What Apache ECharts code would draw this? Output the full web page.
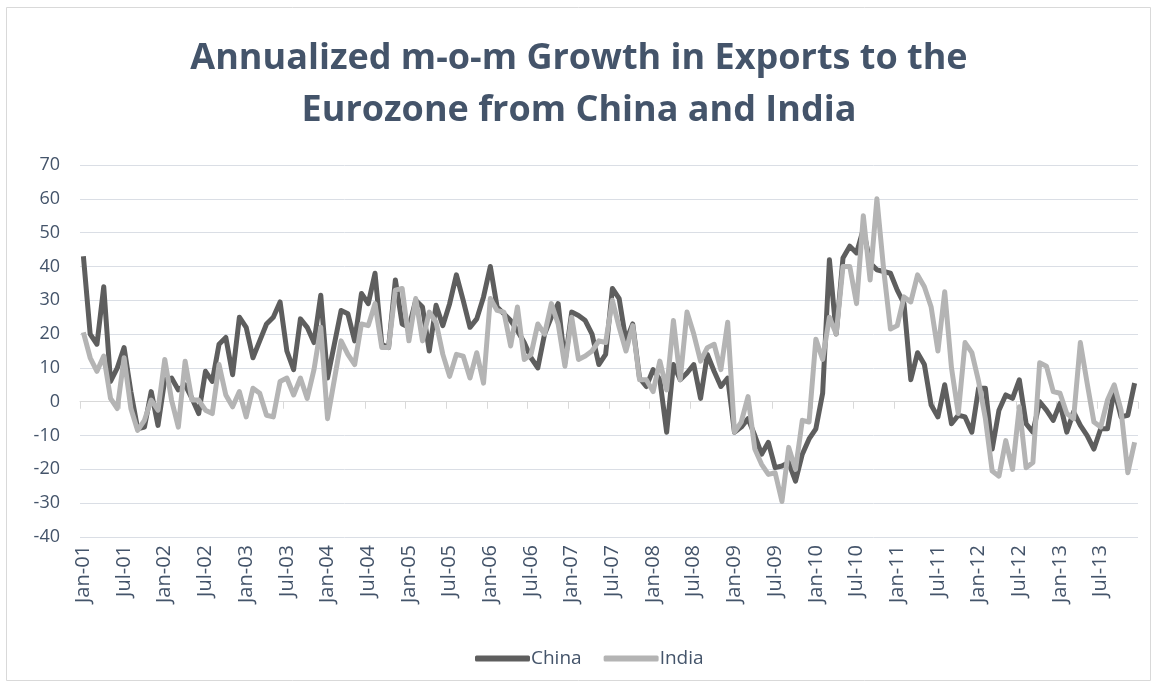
<!DOCTYPE html>
<html>
<head>
<meta charset="utf-8">
<script src="https://cdn.jsdelivr.net/npm/echarts@6/dist/echarts.min.js"></script>
<style>
  html, body { margin: 0; padding: 0; background: #ffffff; }
  #chart { width: 1158px; height: 686px; }
</style>
</head>
<body>
<div id="chart"></div>
<script>
// ---------------- DATA ----------------
const monthNames = ['Jan','Feb','Mar','Apr','May','Jun','Jul','Aug','Sep','Oct','Nov','Dec'];
const years = ['01','02','03','04','05','06','07','08','09','10','11','12','13'];
const categories = [];
years.forEach(function (y) { monthNames.forEach(function (m) { categories.push(m + '-' + y); }); });

const yTicks = { min: -40, max: 70, step: 10 };

const china = [
  43, 20, 17, 34, 6, 10, 16, 3, -8, -7.5, 3, -7,
  6.5, 7, 3.5, 5, 1, -3.5, 9, 6, 17, 19, 8, 25,
  22, 13, 18, 23, 25, 29.5, 15, 9.5, 24.5, 22, 17.5, 31.5,
  7, 17, 27, 26, 18, 32, 29, 38, 17, 16, 36, 23,
  22, 30, 28, 15, 28.5, 22.5, 29, 37.5, 30, 22, 24.5, 31,
  40, 28, 26, 24, 21, 17.5, 13, 10, 20, 25, 29, 11.5,
  26.5, 25.5, 24, 20, 11, 14, 33.5, 30.5, 18, 23, 7, 4.5,
  9.5, 6.5, -9, 11, 6.5, 8.5, 11, 1, 14, 9, 4.5, 7,
  -9, -7.5, -5, -10, -15.5, -12, -19.5, -19, -18, -23.5, -15.5, -11,
  -8, 2.5, 42, 20, 42.5, 46, 44, 51, 41, 39, 38.5, 38,
  33, 29, 6.5, 14.5, 11, -1, -4.5, 5, -6.5, -4, -4.5, -9,
  4, 4, -14, -2.5, 2, 1, 6.5, -6.5, -9, 0, -2.5, -5.5,
  -0.5, -9, -3, -7, -10, -14, -8, -8, 3.5, -4.5, -4, 5.5
];

const india = [
  20.5, 13, 9, 13.5, 1, -2, 13, -2, -8.5, -5.5, 0.5, -2.5,
  12.5, 0.5, -7.5, 12, 0.5, 0.5, -2.5, -3.5, 11, 2, -1.5, 3,
  -4.5, 4, 2.5, -4, -4.5, 6, 7, 2, 7, 1, 9.5, 22,
  -5, 6.5, 18, 14, 11, 23, 22.5, 29, 16, 16, 33, 33.5,
  18, 30.5, 18, 26.5, 23.5, 14, 7.5, 14, 13.5, 7, 14.5, 5.5,
  30.5, 27, 26.5, 16.5, 28, 12.5, 14, 23, 20, 29, 23, 10.5,
  25, 12.5, 13.5, 15, 18, 17.5, 30, 22, 15, 22.5, 6.5, 6.5,
  3, 12, 3.5, 24, 6.5, 26.5, 20, 12, 16, 17, 9.5, 23.5,
  -9, -6, 1.5, -14, -18.5, -21.5, -21, -29.5, -13.5, -20, -5.5, -6,
  18.5, 12.5, 25, 20, 40, 40, 29, 55, 36, 60, 39, 21.5,
  22.5, 31, 29.5, 37.5, 34, 28, 15, 32.5, 10, -3.5, 17.5, 14.5,
  6, -5, -20.5, -22, -11.5, -20, -1.5, -19.5, -18, 11.5, 10.5, 3,
  2.5, -3.5, -5, 17.5, 5.5, -6, -7.5, 0.5, 5, -2.5, -21, -12
];

const seriesNames = ['China', 'India'];
const titleText = 'Annualized m-o-m Growth in Exports to the\nEurozone from China and India';

// ---------------- CHART ----------------
const FONT = '"Open Sans", Lato, sans-serif';
const TXT = '#44546A';
const GRID = '#dadee5';

const chart = echarts.init(document.getElementById('chart'), null, { renderer: 'canvas' });

chart.setOption({
  animation: false,
  backgroundColor: '#ffffff',
  textStyle: { fontFamily: FONT },
  title: {
    text: titleText,
    left: 'center',
    top: 28,
    textStyle: {
      fontFamily: FONT,
      fontSize: 36,
      fontWeight: 'bold',
      color: TXT,
      lineHeight: 52
    }
  },
  graphic: [{
    type: 'rect',
    shape: { x: 6.5, y: 7.5, width: 1144, height: 673 },
    style: { fill: 'none', stroke: '#d9d9d9', lineWidth: 1 },
    silent: true
  }],
  legend: {
    data: seriesNames,
    left: 470,
    top: 644,
    icon: 'roundRect',
    itemWidth: 55,
    itemHeight: 6,
    itemGap: 22,
    textStyle: { fontFamily: FONT, fontSize: 19, color: TXT, padding: [0, 0, 0, -4] }
  },
  grid: { left: 80, right: 20, top: 165, height: 372, containLabel: false },
  xAxis: [
    {
      type: 'category',
      data: categories,
      boundaryGap: true,
      axisLine: { show: true, onZero: true, lineStyle: { color: '#d9d9d9', width: 1 } },
      axisTick: { show: true, interval: 5, length: 7, lineStyle: { color: '#d9d9d9' } },
      axisLabel: { show: false },
      splitLine: { show: false }
    },
    {
      type: 'category',
      data: categories,
      position: 'bottom',
      boundaryGap: true,
      axisLine: { show: false, onZero: false },
      axisTick: { show: false },
      axisLabel: {
        show: true,
        interval: 5,
        rotate: 90,
        margin: 8,
        fontFamily: FONT,
        fontSize: 20,
        color: TXT
      },
      splitLine: { show: false }
    }
  ],
  yAxis: {
    type: 'value',
    min: yTicks.min,
    max: yTicks.max,
    interval: yTicks.step,
    axisLine: { show: false },
    axisTick: { show: false },
    axisLabel: { fontFamily: FONT, fontSize: 18, color: TXT, margin: 20 },
    splitLine: { show: true, lineStyle: { color: GRID, width: 1 } }
  },
  series: [
    {
      name: seriesNames[0],
      type: 'line',
      xAxisIndex: 0,
      data: china,
      showSymbol: false,
      symbol: 'none',
      color: '#5e5e5e',
      lineStyle: { width: 5, color: '#5e5e5e', join: 'round' }
    },
    {
      name: seriesNames[1],
      type: 'line',
      xAxisIndex: 0,
      data: india,
      showSymbol: false,
      symbol: 'none',
      color: '#b4b4b4',
      lineStyle: { width: 5, color: '#b4b4b4', join: 'round' }
    }
  ]
});
</script>
</body>
</html>
